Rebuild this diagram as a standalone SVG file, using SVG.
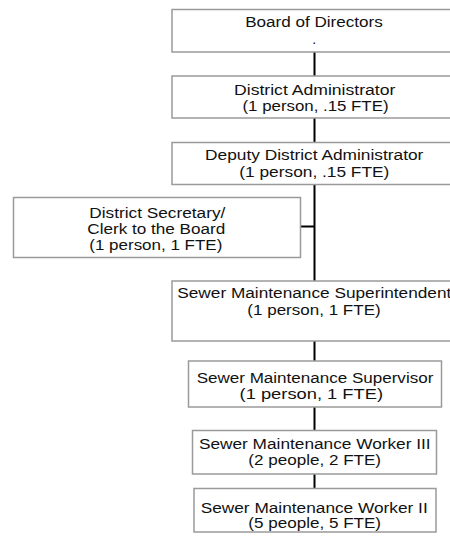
<svg xmlns="http://www.w3.org/2000/svg" width="450" height="541" viewBox="0 0 450 541">
<style>
.box{fill:#fff;stroke:#9a9a9a;stroke-width:1.5}
.t{font-family:"Liberation Sans",Arial,sans-serif;font-size:14px;fill:#111;text-anchor:middle}
.ts{font-family:"Liberation Sans",Arial,sans-serif;font-size:14px;fill:#111;text-anchor:start}
.c{stroke:#000;stroke-width:2;fill:none}
</style>
<rect width="450" height="541" fill="#fff"/>
<g id="connectors">
<path class="c" d="M314.5 52V76M314.5 118V142.5M314.5 184.5V281M300.5 226.5H314.5M314.5 341V361M314.5 407V430.5M314.5 474V488.5"/>
</g>
<g id="board">
<rect class="box" x="172" y="9.5" width="290" height="42.5"/>
<text class="t" x="314" y="26.7" textLength="137.7" lengthAdjust="spacingAndGlyphs">Board of Directors</text>
<text class="t" x="314.3" y="43.5">.</text>
</g>
<g id="district-administrator">
<rect class="box" x="172" y="76" width="290" height="42"/>
<text class="t" x="314.7" y="95" textLength="161.3" lengthAdjust="spacingAndGlyphs">District Administrator</text>
<text class="t" x="315.5" y="111" textLength="146" lengthAdjust="spacingAndGlyphs">(1 person, .15 FTE)</text>
</g>
<g id="deputy-district-administrator">
<rect class="box" x="172" y="142.5" width="290" height="42"/>
<text class="t" x="314.2" y="159.5" textLength="218.3" lengthAdjust="spacingAndGlyphs">Deputy District Administrator</text>
<text class="t" x="314.3" y="176.8" textLength="150" lengthAdjust="spacingAndGlyphs">(1 person, .15 FTE)</text>
</g>
<g id="district-secretary">
<rect class="box" x="13.5" y="197.5" width="287" height="60"/>
<text class="t" x="157.3" y="217.5" textLength="136" lengthAdjust="spacingAndGlyphs">District Secretary/</text>
<text class="t" x="156.3" y="234" textLength="138" lengthAdjust="spacingAndGlyphs">Clerk to the Board</text>
<text class="t" x="155.8" y="249.5" textLength="133" lengthAdjust="spacingAndGlyphs">(1 person, 1 FTE)</text>
</g>
<g id="superintendent">
<rect class="box" x="172" y="281" width="290" height="60"/>
<text class="ts" x="177.3" y="297.7" textLength="274" lengthAdjust="spacingAndGlyphs">Sewer Maintenance Superintendent</text>
<text class="t" x="314" y="315" textLength="133.3" lengthAdjust="spacingAndGlyphs">(1 person, 1 FTE)</text>
</g>
<g id="supervisor">
<rect class="box" x="188.5" y="361" width="253" height="46"/>
<text class="t" x="315" y="383.3" textLength="236.7" lengthAdjust="spacingAndGlyphs">Sewer Maintenance Supervisor</text>
<text class="t" x="311.3" y="399.3" textLength="143.5" lengthAdjust="spacingAndGlyphs">(1 person, 1 FTE)</text>
</g>
<g id="worker-iii">
<rect class="box" x="192.5" y="430.5" width="244" height="43.5"/>
<text class="t" x="314.8" y="449.3" textLength="231.7" lengthAdjust="spacingAndGlyphs">Sewer Maintenance Worker III</text>
<text class="t" x="314.7" y="465" textLength="132.7" lengthAdjust="spacingAndGlyphs">(2 people, 2 FTE)</text>
</g>
<g id="worker-ii">
<rect class="box" x="194" y="488.5" width="242" height="43.5"/>
<text class="t" x="314.2" y="513.3" textLength="227" lengthAdjust="spacingAndGlyphs">Sewer Maintenance Worker II</text>
<text class="t" x="314.7" y="528.3" textLength="132.7" lengthAdjust="spacingAndGlyphs">(5 people, 5 FTE)</text>
</g>
</svg>
